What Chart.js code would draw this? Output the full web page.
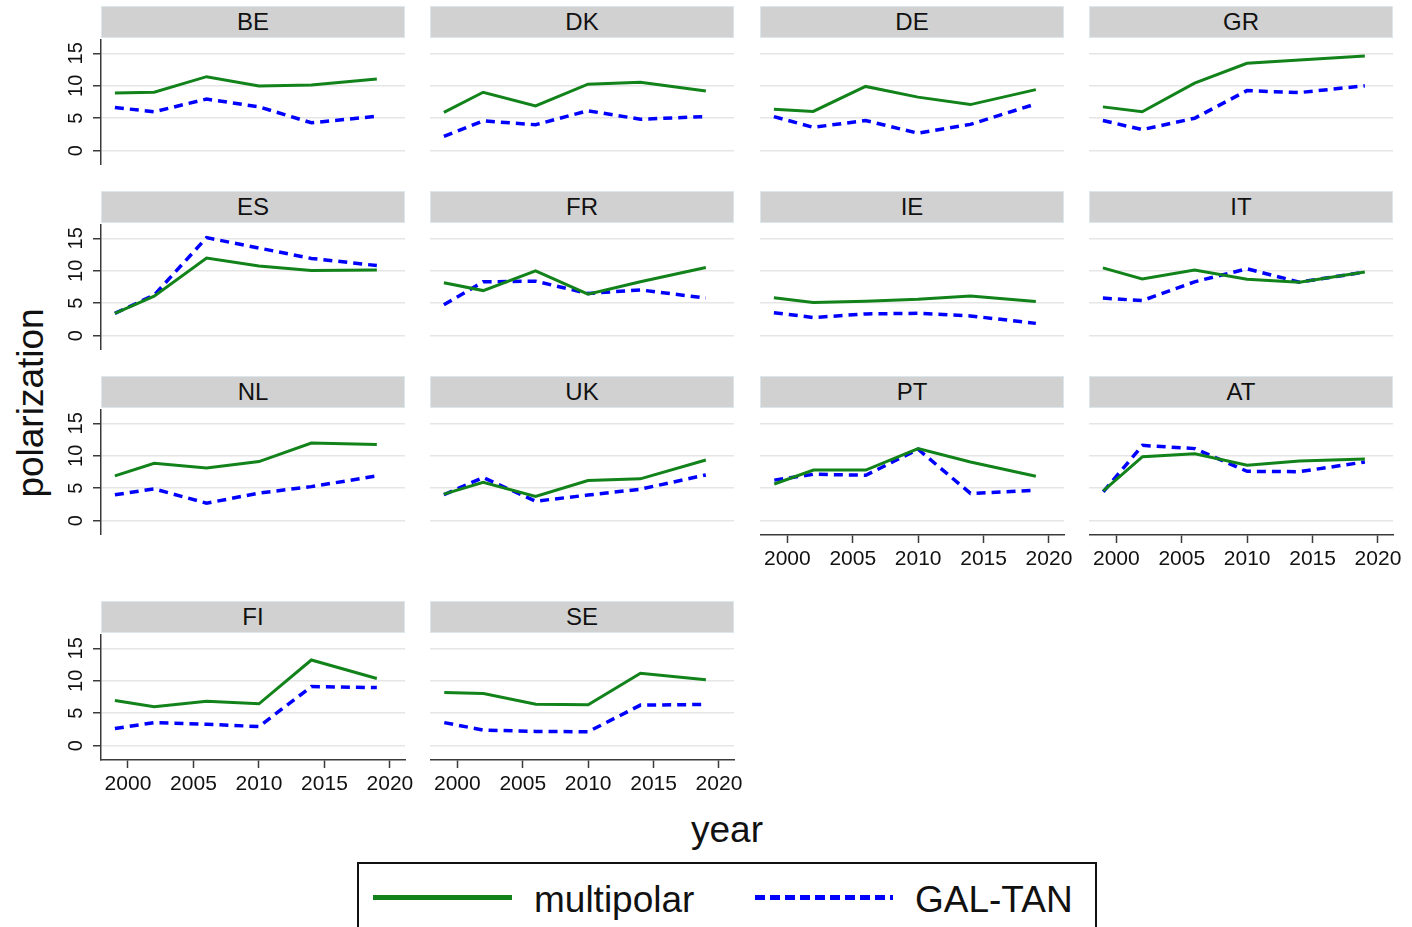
<!DOCTYPE html>
<html><head><meta charset="utf-8">
<script src="https://cdn.jsdelivr.net/npm/chart.js@4.4.1/dist/chart.umd.min.js"></script>
<style>
html,body{margin:0;padding:0;background:#fff;width:1412px;height:927px;overflow:hidden;font-family:"Liberation Sans",Arial,Helvetica,sans-serif;color:#111;}
.hdr{position:absolute;height:32px;background:#d1d1d1;border:1px solid #dbe7eb;box-sizing:border-box;display:flex;align-items:center;justify-content:center;font-size:24px;color:#111;}
.pan{position:absolute;}
.ytitle{position:absolute;left:30px;top:403px;transform:translate(-50%,-50%) rotate(-90deg);font-size:37px;line-height:37px;white-space:nowrap;}
.xtitle{position:absolute;left:727px;top:811px;transform:translateX(-50%);font-size:37px;line-height:37px;white-space:nowrap;}
.legend{position:absolute;left:357px;top:862px;width:740px;height:120px;border:2px solid #111;box-sizing:border-box;}
.lg-txt{position:absolute;font-size:37px;line-height:37px;white-space:nowrap;}
</style>
</head><body>
<div class="ytitle">polarization</div>
<div class="xtitle">year</div>
<div class="legend"></div>
<div style="position:absolute;left:373px;top:895px;width:139px;height:5px;background:#12821a;"></div>
<div class="lg-txt" style="left:534px;top:881px;">multipolar</div>
<div style="position:absolute;left:755px;top:895px;width:138px;height:5px;background:repeating-linear-gradient(90deg,#0000ff 0 10px,transparent 10px 15px);"></div>
<div class="lg-txt" style="left:915px;top:881px;">GAL-TAN</div>
<script>
const years = [1999, 2002, 2006, 2010, 2014, 2019];
const xTicks = [2000, 2005, 2010, 2015, 2020];
const yTicks = [0, 5, 10, 15];
const countries = ['BE','DK','DE','GR','ES','FR','IE','IT','NL','UK','PT','AT','FI','SE'];

const BE_multipolar = [8.9, 9.0, 11.4, 9.95, 10.1, 11.05];
const BE_galtan     = [6.65, 6.0, 7.95, 6.75, 4.3, 5.3];
const DK_multipolar = [5.9, 9.0, 6.9, 10.25, 10.55, 9.2];
const DK_galtan     = [2.2, 4.6, 4.0, 6.15, 4.85, 5.25];
const DE_multipolar = [6.4, 6.05, 9.9, 8.25, 7.1, 9.4];
const DE_galtan     = [5.25, 3.6, 4.65, 2.7, 4.05, 7.2];
const GR_multipolar = [6.75, 6.0, 10.4, 13.45, 13.95, 14.6];
const GR_galtan     = [4.65, 3.25, 5.0, 9.25, 8.95, 10.0];
const ES_multipolar = [3.45, 6.1, 11.95, 10.75, 10.05, 10.1];
const ES_galtan     = [3.45, 6.25, 15.1, 13.5, 11.9, 10.8];
const FR_multipolar = [8.15, 6.95, 10.0, 6.4, 8.3, 10.5];
const FR_galtan     = [4.75, 8.3, 8.4, 6.5, 7.05, 5.8];
const IE_multipolar = [5.85, 5.1, 5.3, 5.6, 6.1, 5.25];
const IE_galtan     = [3.55, 2.8, 3.35, 3.45, 3.05, 1.9];
const IT_multipolar = [10.45, 8.75, 10.1, 8.7, 8.25, 9.8];
const IT_galtan     = [5.8, 5.4, 8.3, 10.3, 8.25, 9.8];
const NL_multipolar = [6.9, 8.85, 8.1, 9.1, 11.95, 11.75];
const NL_galtan     = [4.0, 4.9, 2.7, 4.25, 5.25, 6.9];
const UK_multipolar = [4.1, 5.9, 3.75, 6.2, 6.45, 9.35];
const UK_galtan     = [4.0, 6.65, 3.0, 3.95, 4.85, 7.05];
const PT_multipolar = [5.65, 7.8, 7.8, 11.1, 9.05, 6.85];
const PT_galtan     = [6.25, 7.15, 7.0, 11.0, 4.2, 4.7];
const AT_multipolar = [4.6, 9.85, 10.3, 8.55, 9.2, 9.5];
const AT_galtan     = [4.45, 11.6, 11.1, 7.6, 7.55, 9.05];
const FI_multipolar = [6.95, 6.0, 6.85, 6.45, 13.2, 10.35];
const FI_galtan     = [2.65, 3.55, 3.3, 2.95, 9.1, 8.95];
const SE_multipolar = [8.2, 8.05, 6.4, 6.3, 11.15, 10.15];
const SE_galtan     = [3.55, 2.4, 2.2, 2.15, 6.25, 6.35];

const seriesTable = {
  BE:[BE_multipolar,BE_galtan], DK:[DK_multipolar,DK_galtan], DE:[DE_multipolar,DE_galtan], GR:[GR_multipolar,GR_galtan],
  ES:[ES_multipolar,ES_galtan], FR:[FR_multipolar,FR_galtan], IE:[IE_multipolar,IE_galtan], IT:[IT_multipolar,IT_galtan],
  NL:[NL_multipolar,NL_galtan], UK:[UK_multipolar,UK_galtan], PT:[PT_multipolar,PT_galtan], AT:[AT_multipolar,AT_galtan],
  FI:[FI_multipolar,FI_galtan], SE:[SE_multipolar,SE_galtan]
};
const bottomPanels = ['PT','AT','FI','SE'];

const FONT = '"Liberation Sans", Arial, Helvetica, sans-serif';
const GREEN = '#12821a', BLUE = '#0000ff', AXIS = '#3a3a3a', GRID = '#e6e6e6';
const colLefts = [101, 430, 760, 1089];
const rowTops = [6, 191, 376, 601];
const PLOT_W = 304, PLOT_H = 126;
const X_MIN = 1997.94, X_MAX = 2021.15, Y_MIN = -2.2, Y_MAX = 17.2;

const rotYTicks = {
  id: 'rotYTicks',
  afterDraw(chart, args, opts) {
    if (!opts.show) return;
    const s = chart.scales.y, ctx = chart.ctx;
    ctx.save();
    ctx.font = '20px ' + FONT;
    ctx.fillStyle = '#111';
    ctx.textAlign = 'center';
    ctx.textBaseline = 'alphabetic';
    s.ticks.forEach(t => {
      const py = s.getPixelForValue(t.value);
      ctx.save();
      ctx.translate(s.right - 19, py);
      ctx.rotate(-Math.PI / 2);
      ctx.fillText(String(t.value), 0, 0);
      ctx.restore();
    });
    ctx.restore();
  }
};
Chart.register(rotYTicks);

countries.forEach((code, i) => {
  const row = Math.floor(i / 4), col = i % 4;
  const isLeft = col === 0, isBottom = bottomPanels.includes(code);
  const leftSpace = isLeft ? 60 : 0, rightSpace = 24, bottomSpace = isBottom ? 50 : 0;

  const hdr = document.createElement('div');
  hdr.className = 'hdr';
  hdr.style.left = colLefts[col] + 'px';
  hdr.style.top = rowTops[row] + 'px';
  hdr.style.width = PLOT_W + 'px';
  hdr.textContent = code;
  document.body.appendChild(hdr);

  const w = leftSpace + PLOT_W + rightSpace, h = PLOT_H + bottomSpace;
  const pan = document.createElement('div');
  pan.className = 'pan';
  pan.style.left = (colLefts[col] - leftSpace) + 'px';
  pan.style.top = (rowTops[row] + 33) + 'px';
  pan.style.width = w + 'px';
  pan.style.height = h + 'px';
  const cv = document.createElement('canvas');
  cv.width = w; cv.height = h;
  cv.style.width = w + 'px'; cv.style.height = h + 'px';
  pan.appendChild(cv);
  document.body.appendChild(pan);

  const [mp, gt] = seriesTable[code];
  new Chart(cv, {
    type: 'line',
    data: {
      datasets: [
        { label: 'multipolar', data: years.map((x, k) => ({ x, y: mp[k] })), borderColor: GREEN, borderWidth: 3, pointRadius: 0, tension: 0, fill: false },
        { label: 'GAL-TAN', data: years.map((x, k) => ({ x, y: gt[k] })), borderColor: BLUE, borderWidth: 3.5, borderDash: [9, 6], pointRadius: 0, tension: 0, fill: false }
      ]
    },
    options: {
      responsive: false, animation: false, events: [],
      layout: { autoPadding: false, padding: { left: 0, right: rightSpace, top: 0, bottom: 0 } },
      plugins: { legend: { display: false }, tooltip: { enabled: false }, rotYTicks: { show: isLeft } },
      scales: {
        x: {
          type: 'linear', min: X_MIN, max: X_MAX, display: isBottom,
          afterBuildTicks: s => { s.ticks = xTicks.map(v => ({ value: v })); },
          afterFit: s => { s.height = bottomSpace; },
          grid: { display: true, drawOnChartArea: false, drawTicks: true, tickLength: 8, tickWidth: 1.5, tickColor: AXIS },
          border: { display: true, color: AXIS, width: 1.5 },
          ticks: { font: { size: 21, family: FONT }, color: '#111', padding: 4, maxRotation: 0, minRotation: 0, autoSkip: false, callback: v => String(v) }
        },
        y: {
          type: 'linear', min: Y_MIN, max: Y_MAX,
          afterBuildTicks: s => { s.ticks = yTicks.map(v => ({ value: v })); },
          afterFit: s => { s.width = leftSpace; },
          grid: { color: GRID, lineWidth: 1.5, drawTicks: isLeft, tickLength: 8, tickColor: AXIS, tickWidth: 1.5 },
          border: { display: isLeft, color: AXIS, width: 1.5 },
          ticks: { display: false }
        }
      }
    }
  });
});
</script>
</body></html>
